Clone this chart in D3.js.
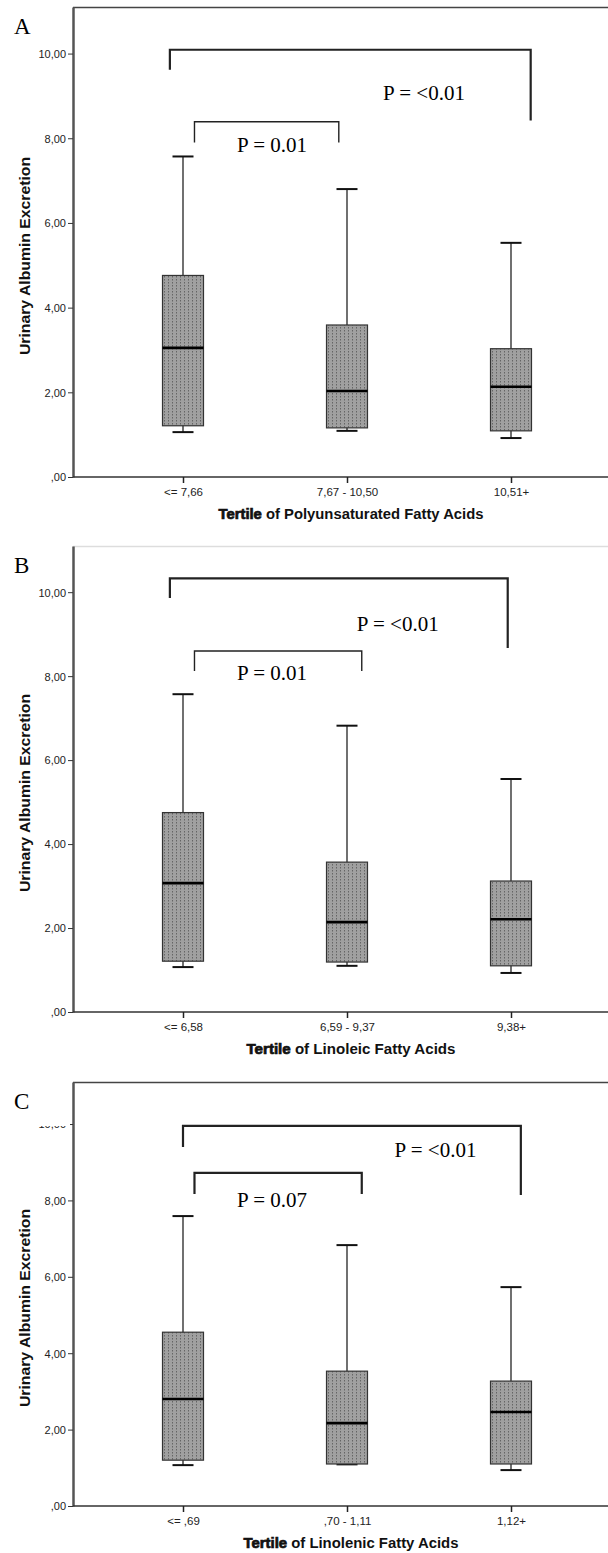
<!DOCTYPE html>
<html>
<meta charset="utf-8">
<script src="https://d3js.org/d3.v7.min.js"></script>
<style>
  body { margin: 0; background: #fff; }
  svg { display: block; }
</style>
<body>
<div id="chart"></div>
<script>

// ---- data ----
var panelLetters = ["A", "B", "C"];
var xTitleRest = [" of Polyunsaturated Fatty Acids", " of Linoleic Fatty Acids", " of Linolenic Fatty Acids"];
var catsA = ["<= 7,66", "7,67 - 10,50", "10,51+"];
var catsB = ["<= 6,58", "6,59 - 9,37", "9,38+"];
var catsC = ["<= ,69", ",70 - 1,11", "1,12+"];
var yTicks = [0, 2, 4, 6, 8, 10];
var yTickLabels = [",00", "2,00", "4,00", "6,00", "8,00", "10,00"];

// box stats per group: [lower whisker, Q1, median, Q3, upper whisker]
var boxA = [[1.06, 1.21, 3.05, 4.76, 7.57], [1.09, 1.16, 2.03, 3.59, 6.80], [0.92, 1.09, 2.13, 3.03, 5.53]];
var boxB = [[1.07, 1.21, 3.07, 4.75, 7.57], [1.10, 1.19, 2.14, 3.57, 6.82], [0.93, 1.10, 2.21, 3.12, 5.55]];
var boxC = [[1.07, 1.20, 2.80, 4.55, 7.59], [1.09, 1.10, 2.17, 3.53, 6.83], [0.94, 1.10, 2.46, 3.27, 5.73]];

// significance brackets: x in category-index units, y = [top, left leg end, right leg end]
var pBig = ["P = <0.01", "P = <0.01", "P = <0.01"];
var pSmall = ["P = 0.01", "P = 0.01", "P = 0.07"];
var bigX = [[-0.08, 2.12], [-0.08, 1.98], [0.0, 2.06]];
var bigY = [[10.09, 9.62, 8.42], [10.33, 9.86, 8.67], [9.95, 9.40, 8.14]];
var smallX = [[0.07, 0.95], [0.07, 1.09], [0.07, 1.09]];
var smallY = [[8.39, 7.90, 7.90], [8.60, 8.12, 8.12], [8.72, 8.17, 8.17]];
var bigTextPos = [[1.22, 8.91], [1.06, 9.07], [1.29, 9.14]];
var smallTextPos = [[0.33, 7.68], [0.33, 7.90], [0.33, 7.83]];

// ---- layout ----
var width = 608, height = 1553;
var axisLeft = 73;
var panels = [
  {top: 7,    bottom: 477,  cats: catsA, box: boxA, frame: "#444", titleLen: 265},
  {top: 546,  bottom: 1012, cats: catsB, box: boxB, frame: "#ddd", titleLen: 209},
  {top: 1082, bottom: 1506, cats: catsC, box: boxC, frame: "#444", titleLen: 215}
];

var serif = "'Liberation Serif', 'Times New Roman', serif";
var sans = "'Liberation Sans', Arial, sans-serif";

var svg = d3.select("#chart")
  .append("svg")
    .attr("width", width)
    .attr("height", height);

// dotted grey fill of the boxes
var pat = svg.append("defs").append("pattern")
    .attr("id", "dots")
    .attr("patternUnits", "userSpaceOnUse")
    .attr("width", 4)
    .attr("height", 3);
pat.append("rect").attr("width", 4).attr("height", 3).attr("fill", "#a0a0a0");
pat.append("rect").attr("x", 1).attr("y", 0).attr("width", 1).attr("height", 1.5).attr("fill", "#656565");

panels.forEach(function(p, i) {
  var g = svg.append("g");

  var x = d3.scalePoint()
      .domain(p.cats)
      .range([axisLeft + 110, axisLeft + 438]);
  var xi = d3.scaleLinear().domain([0, 2]).range(x.range());
  var y = d3.scaleLinear()
      .domain([0, 11.1])
      .range([p.bottom, p.top]);

  // frame top line
  g.append("line")
      .attr("x1", axisLeft).attr("x2", width)
      .attr("y1", p.top + 0.5).attr("y2", p.top + 0.5)
      .attr("stroke", p.frame).attr("stroke-width", 1.5);

  // y axis
  var yAxis = g.append("g")
      .attr("transform", "translate(" + axisLeft + ",0)")
      .call(d3.axisLeft(y).tickValues(yTicks)
        .tickFormat(function(d, k) { return yTickLabels[k]; })
        .tickSize(5).tickSizeOuter(0));
  yAxis.select(".domain").attr("stroke", "#555").attr("stroke-width", 2.5);
  yAxis.selectAll(".tick line").attr("stroke", "#333");
  yAxis.selectAll("text")
      .attr("x", -7)
      .attr("dy", "0.35em")
      .style("font-family", sans)
      .style("font-size", "11px")
      .attr("fill", "#222");

  // x axis
  var xAxis = g.append("g")
      .attr("transform", "translate(0," + p.bottom + ")")
      .call(d3.axisBottom(x).tickSize(6).tickSizeOuter(0));
  xAxis.select(".domain").attr("d", "M" + axisLeft + ",0H" + width).attr("stroke", "#333").attr("stroke-width", 1.5);
  xAxis.selectAll(".tick line").attr("stroke", "#222").attr("stroke-width", 1.5);
  xAxis.selectAll("text")
      .attr("y", 11)
      .style("font-family", sans)
      .style("font-size", "11.5px")
      .attr("fill", "#222");

  // boxes
  var bw = 41, cw = 21;
  var groups = g.selectAll(".bx")
      .data(p.box)
      .enter().append("g")
      .attr("class", "bx")
      .attr("transform", function(d, k) { return "translate(" + x(p.cats[k]) + ",0)"; });

  groups.append("line")
      .attr("x1", 0).attr("x2", 0)
      .attr("y1", function(d) { return y(d[4]); })
      .attr("y2", function(d) { return y(d[0]); })
      .attr("stroke", "#111").attr("stroke-width", 1.2);
  groups.append("line")
      .attr("x1", -cw / 2).attr("x2", cw / 2)
      .attr("y1", function(d) { return y(d[4]); })
      .attr("y2", function(d) { return y(d[4]); })
      .attr("stroke", "#111").attr("stroke-width", 2);
  groups.append("line")
      .attr("x1", -cw / 2).attr("x2", cw / 2)
      .attr("y1", function(d) { return y(d[0]); })
      .attr("y2", function(d) { return y(d[0]); })
      .attr("stroke", "#111").attr("stroke-width", 2);
  groups.append("rect")
      .attr("x", -bw / 2)
      .attr("width", bw)
      .attr("y", function(d) { return y(d[3]); })
      .attr("height", function(d) { return y(d[1]) - y(d[3]); })
      .attr("fill", "url(#dots)")
      .attr("stroke", "#333").attr("stroke-width", 1.2);
  groups.append("line")
      .attr("x1", -bw / 2).attr("x2", bw / 2)
      .attr("y1", function(d) { return y(d[2]); })
      .attr("y2", function(d) { return y(d[2]); })
      .attr("stroke", "#000").attr("stroke-width", 2.6);

  // brackets
  var line = d3.line();
  g.append("path")
      .attr("d", line([[xi(bigX[i][0]), y(bigY[i][1])], [xi(bigX[i][0]), y(bigY[i][0])],
                       [xi(bigX[i][1]), y(bigY[i][0])], [xi(bigX[i][1]), y(bigY[i][2])]]))
      .attr("fill", "none").attr("stroke", "#222").attr("stroke-width", 2.2);
  g.append("path")
      .attr("d", line([[xi(smallX[i][0]), y(smallY[i][1])], [xi(smallX[i][0]), y(smallY[i][0])],
                       [xi(smallX[i][1]), y(smallY[i][0])], [xi(smallX[i][1]), y(smallY[i][2])]]))
      .attr("fill", "none").attr("stroke", "#222").attr("stroke-width", i === 2 ? 2.2 : 1.4);

  g.append("text")
      .attr("x", xi(bigTextPos[i][0])).attr("y", y(bigTextPos[i][1]))
      .style("font-family", serif).style("font-size", "21px")
      .text(pBig[i]);
  g.append("text")
      .attr("x", xi(smallTextPos[i][0])).attr("y", y(smallTextPos[i][1]))
      .style("font-family", serif).style("font-size", "21px")
      .text(pSmall[i]);

  // panel letter
  g.append("text")
      .attr("x", 14).attr("y", p.top + 27)
      .style("font-family", serif).style("font-size", "23px")
      .text(panelLetters[i]);

  // y title
  g.append("text")
      .attr("transform", "translate(30," + ((p.top + p.bottom) / 2 + 14) + ") rotate(-90)")
      .attr("text-anchor", "middle")
      .attr("textLength", 198)
      .attr("lengthAdjust", "spacingAndGlyphs")
      .style("font-family", sans).style("font-size", "14px").style("font-weight", "bold")
      .attr("fill", "#111")
      .text("Urinary Albumin Excretion");

  // x title
  var xt = g.append("text")
      .attr("x", x(p.cats[1]) + 4).attr("y", p.bottom + 42)
      .attr("text-anchor", "middle")
      .attr("textLength", p.titleLen)
      .attr("lengthAdjust", "spacingAndGlyphs")
      .style("font-family", sans).style("font-size", "14px").style("font-weight", "bold")
      .attr("fill", "#111");
  xt.append("tspan").style("font-weight", "900").attr("stroke", "#111").attr("stroke-width", 0.7).text("Tertile");
  xt.append("tspan").text(xTitleRest[i]);
});

// panel C: top of the "10,00" label is hidden in the source figure
svg.append("rect")
    .attr("x", 30).attr("y", 1100).attr("width", 40).attr("height", 26)
    .attr("fill", "#fff");

</script>
</body>
</html>
